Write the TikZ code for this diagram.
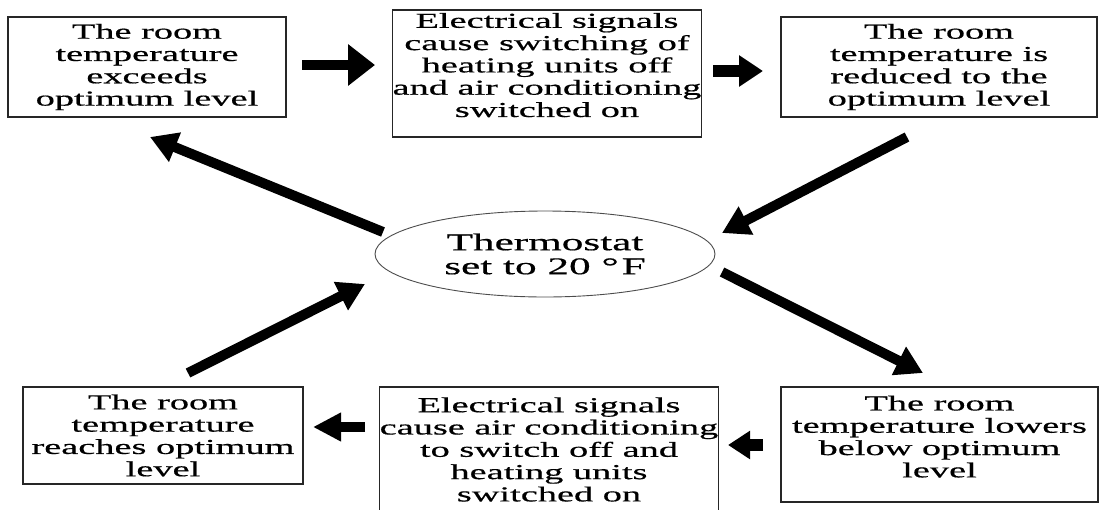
\documentclass[tikz,border=0pt]{standalone}
\usepackage{fontspec}
\setmainfont{Liberation Serif}[FakeStretch=1.8,FakeBold=0.6]
\usetikzlibrary{arrows.meta,shapes.geometric}
\newcommand{\dnsp}[1]{\rule[-#1]{0pt}{#1}}
\tikzset{
  box/.style={draw=black!85, line width=1.1pt, inner sep=0pt, align=center,
    font=\fontsize{21.3}{22.3}\selectfont},
  oval/.style={ellipse, draw=black!70, line width=0.9pt, inner sep=0pt, align=center,
    font=\fontsize{24}{24}\selectfont},
  arr/.style={line width=10pt, -{Triangle[width=30pt,length=27pt]}},
}
\begin{document}
\begin{tikzpicture}[x=1pt,y=-1pt]
\useasboundingbox (0,0) rectangle (1101,509);
\node[box, minimum width=278pt, minimum height=100pt] (tl) at (147,67)
  {The room\\temperature\\exceeds\\optimum level};
\node[box, minimum width=308pt, minimum height=127pt] (tm) at (547,73.5)
  {Electrical signals\\cause switching of\\heating units off\\and air conditioning\\switched on\dnsp{17pt}};
\node[box, minimum width=316pt, minimum height=100pt] (tr) at (939,67)
  {The room\\temperature is\\reduced to the\\optimum level};
\node[oval, minimum width=340pt, minimum height=86pt] (th) at (545,254)
  {Thermostat\\set to 20 °\kern3pt F};
\node[box, minimum width=280pt, minimum height=97pt] (bl) at (163,435.5)
  {The room\\temperature\\reaches optimum\\level};
\node[box, minimum width=332pt, minimum height=125pt] (bm) at (549,449.5)
  {Electrical signals\\cause air conditioning\\to switch off and\\heating units\\switched on};
\node[box, minimum width=317pt, minimum height=115pt] (br) at (939.5,444.5)
  {The room\\temperature lowers\\below optimum\\level\dnsp{16pt}};
% arrow end points
\coordinate (a1s) at (302,65);  \coordinate (a1e) at (375,65);
\coordinate (a2s) at (713,71);  \coordinate (a2e) at (763,71);
\coordinate (a3s) at (907,137); \coordinate (a3e) at (722,233);
\coordinate (a4s) at (722,272); \coordinate (a4e) at (923,373);
\coordinate (a5s) at (763,445); \coordinate (a5e) at (728,445);
\coordinate (a6s) at (365,427); \coordinate (a6e) at (313,427);
\coordinate (a7s) at (188,373); \coordinate (a7e) at (365,284);
\coordinate (a8s) at (383,232); \coordinate (a8e) at (150,137);
\draw[arr, -{Triangle[width=40pt,length=27pt]}] (a1s) -- (a1e);
\draw[arr, line width=12pt, -{Triangle[width=30pt,length=24pt]}] (a2s) -- (a2e);
\draw[arr] (a3s) -- (a3e);
\draw[arr] (a4s) -- (a4e);
\draw[arr, line width=12pt, -{Triangle[width=27pt,length=22pt]}] (a5s) -- (a5e);
\draw[arr, -{Triangle[width=27pt,length=28pt]}] (a6s) -- (a6e);
\draw[arr] (a7s) -- (a7e);
\draw[arr] (a8s) -- (a8e);
\end{tikzpicture}
\end{document}
